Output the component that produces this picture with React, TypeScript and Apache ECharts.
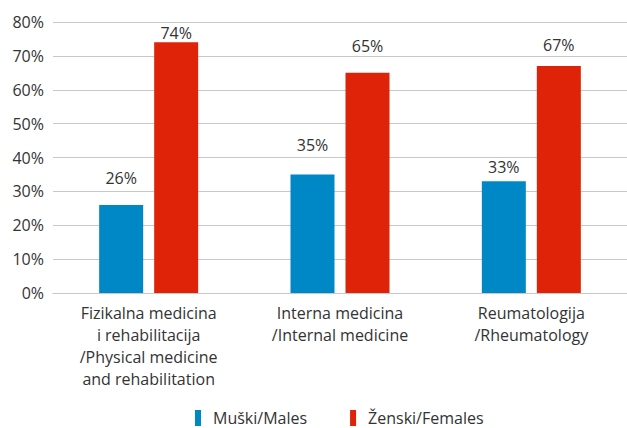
import React, { useEffect, useRef } from "react";
import * as echarts from "echarts";

const categories = [
  "Fizikalna medicina\ni rehabilitacija\n/Physical medicine\nand rehabilitation",
  "Interna medicina\n/Internal medicine",
  "Reumatologija\n/Rheumatology",
];
const males = [26, 35, 33];
const females = [74, 65, 67];
// distance of each value label above its bar (as placed in the original)
const malesLabelGap = [19, 21, 6];
const femalesLabelGap = [1, 19, 13];
const seriesNames = ["Muški/Males", "Ženski/Females"];
const yTicks = [0, 10, 20, 30, 40, 50, 60, 70, 80];

const FONT = "Open Sans";
const TXT = "#333333";

export default function App() {
  const ref = useRef<HTMLDivElement>(null);
  useEffect(() => {
    if (!ref.current) return;
    const chart = echarts.init(ref.current, undefined, { renderer: "svg" });
    const label = {
      show: true,
      position: "top" as const,
      formatter: "{c}%",
      color: TXT,
      fontFamily: FONT,
      fontSize: 16,
    };
    const mk = (vals: number[], gaps: number[]) =>
      vals.map((v, i) => ({ value: v, label: { distance: gaps[i] } }));
    chart.setOption({
      animation: false,
      textStyle: { fontFamily: FONT },
      grid: { left: 53, top: 22, width: 579, height: 271, containLabel: false },
      legend: {
        top: 410,
        left: 195,
        padding: 0,
        itemWidth: 6,
        itemHeight: 16,
        itemGap: 43,
        icon: "rect",
        textStyle: {
          color: TXT,
          fontFamily: FONT,
          fontSize: 16,
          lineHeight: 16,
          padding: [0, 0, 0, 7],
        },
        data: seriesNames,
      },
      xAxis: {
        type: "category",
        data: categories,
        axisTick: { show: false },
        axisLine: { lineStyle: { color: "#c8c8c8", width: 1 } },
        axisLabel: {
          color: TXT,
          fontFamily: FONT,
          fontSize: 16,
          lineHeight: 22,
          margin: 9,
          interval: 0,
        },
      },
      yAxis: {
        type: "value",
        min: 0,
        max: 80,
        interval: 10,
        axisLine: { show: false },
        axisTick: { show: false },
        splitLine: { lineStyle: { color: "#c8c8c8", width: 1 } },
        axisLabel: {
          color: TXT,
          fontFamily: FONT,
          fontSize: 16,
          margin: 9,
          formatter: (v: number) => (yTicks.includes(v) ? `${v}%` : ""),
        },
      },
      series: [
        {
          name: seriesNames[0],
          type: "bar",
          data: mk(males, malesLabelGap),
          barWidth: 44,
          barGap: "25%",
          itemStyle: { color: "#0088c6" },
          label,
        },
        {
          name: seriesNames[1],
          type: "bar",
          data: mk(females, femalesLabelGap),
          barWidth: 44,
          itemStyle: { color: "#de2308" },
          label,
        },
      ],
    });
    return () => chart.dispose();
  }, []);
  return (
    <div
      ref={ref}
      style={{ position: "absolute", left: 0, top: 0, width: 627, height: 428 }}
    />
  );
}
